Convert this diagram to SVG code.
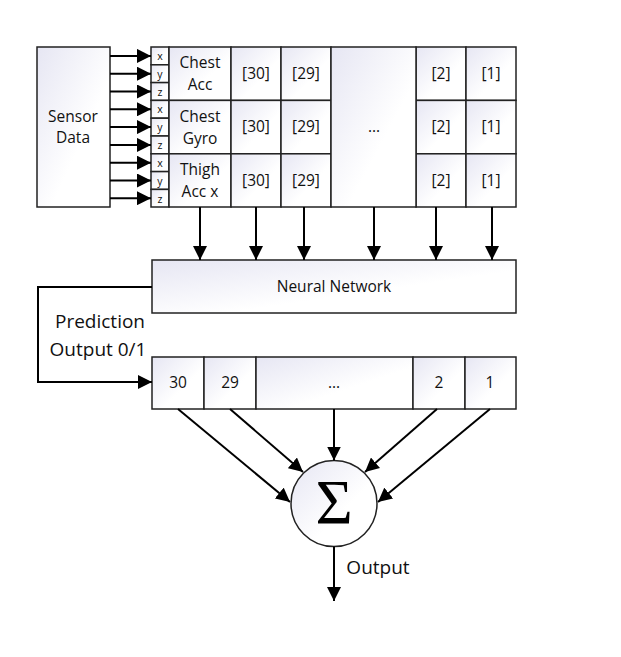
<svg xmlns="http://www.w3.org/2000/svg" width="621" height="657" viewBox="0 0 621 657">
<defs>
<linearGradient id="g" x1="0" y1="0" x2="1" y2="1">
<stop offset="0" stop-color="#e6e6f3"/>
<stop offset="0.6" stop-color="#ffffff"/>
</linearGradient>
<marker id="ah" viewBox="0 0 12 12" refX="12" refY="6" markerWidth="14" markerHeight="14" markerUnits="userSpaceOnUse" orient="auto">
<path d="M0,0 L12,6 L0,12 z" fill="#000"/>
</marker>
<style>
.b{fill:url(#g);stroke:#222;stroke-width:1.5}
.c{stroke:#000;stroke-width:2;fill:none;marker-end:url(#ah)}
.t{font-family:"Open Sans","Noto Sans",sans-serif;font-size:15.5px;fill:#111;text-anchor:middle}
.s{font-family:"Open Sans","Noto Sans",sans-serif;font-size:10.5px;fill:#111;text-anchor:middle}
.l{font-family:"Open Sans","Noto Sans",sans-serif;font-size:19px;fill:#111;text-anchor:middle}
</style>
</defs>
<rect width="621" height="657" fill="#fff"/>
<g id="sensor"><rect class="b" x="37" y="47" width="73" height="160"/><text class="t" x="73" y="122">Sensor</text><text class="t" x="73" y="143">Data</text></g>
<g id="axes">
<rect class="b" x="151" y="47" width="18" height="17.8"/><text class="s" x="160" y="60">x</text>
<rect class="b" x="151" y="64.8" width="18" height="17.8"/><text class="s" x="160" y="78">y</text>
<rect class="b" x="151" y="82.6" width="18" height="17.8"/><text class="s" x="160" y="96">z</text>
<rect class="b" x="151" y="100.4" width="18" height="17.8"/><text class="s" x="160" y="113">x</text>
<rect class="b" x="151" y="118.2" width="18" height="17.8"/><text class="s" x="160" y="131">y</text>
<rect class="b" x="151" y="136" width="18" height="17.8"/><text class="s" x="160" y="149">z</text>
<rect class="b" x="151" y="153.8" width="18" height="17.8"/><text class="s" x="160" y="167">x</text>
<rect class="b" x="151" y="171.6" width="18" height="17.8"/><text class="s" x="160" y="185">y</text>
<rect class="b" x="151" y="189.4" width="18" height="17.6"/><text class="s" x="160" y="203">z</text>
</g>
<g id="chestacc"><rect class="b" x="169" y="47" width="62" height="53.4"/><text class="t" x="200" y="68">Chest</text><text class="t" x="200" y="90">Acc</text></g>
<g id="chestgyro"><rect class="b" x="169" y="100.4" width="62" height="53.4"/><text class="t" x="200" y="122">Chest</text><text class="t" x="200" y="144">Gyro</text></g>
<g id="thighacc"><rect class="b" x="169" y="153.8" width="62" height="53.2"/><text class="t" x="200" y="175">Thigh</text><text class="t" x="200" y="197">Acc x</text></g>
<g id="cells">
<rect class="b" x="231" y="47" width="50" height="53.4"/><text class="t" x="256" y="79">[30]</text>
<rect class="b" x="281" y="47" width="50" height="53.4"/><text class="t" x="306" y="79">[29]</text>
<rect class="b" x="416" y="47" width="50" height="53.4"/><text class="t" x="441" y="79">[2]</text>
<rect class="b" x="466" y="47" width="50" height="53.4"/><text class="t" x="491" y="79">[1]</text>
<rect class="b" x="231" y="100.4" width="50" height="53.4"/><text class="t" x="256" y="132">[30]</text>
<rect class="b" x="281" y="100.4" width="50" height="53.4"/><text class="t" x="306" y="132">[29]</text>
<rect class="b" x="416" y="100.4" width="50" height="53.4"/><text class="t" x="441" y="132">[2]</text>
<rect class="b" x="466" y="100.4" width="50" height="53.4"/><text class="t" x="491" y="132">[1]</text>
<rect class="b" x="231" y="153.8" width="50" height="53.2"/><text class="t" x="256" y="186">[30]</text>
<rect class="b" x="281" y="153.8" width="50" height="53.2"/><text class="t" x="306" y="186">[29]</text>
<rect class="b" x="416" y="153.8" width="50" height="53.2"/><text class="t" x="441" y="186">[2]</text>
<rect class="b" x="466" y="153.8" width="50" height="53.2"/><text class="t" x="491" y="186">[1]</text>
<rect class="b" x="331" y="47" width="85" height="160"/><text class="t" x="374" y="132">...</text>
</g>
<g id="nn"><rect class="b" x="152" y="260" width="364" height="53"/><text class="t" x="334" y="292">Neural Network</text></g>
<g id="outrow">
<rect class="b" x="152" y="357" width="52" height="52"/><text class="t" x="178" y="388">30</text>
<rect class="b" x="204" y="357" width="52" height="52"/><text class="t" x="230" y="388">29</text>
<rect class="b" x="256" y="357" width="157" height="52"/><text class="t" x="334" y="388">...</text>
<rect class="b" x="413" y="357" width="52" height="52"/><text class="t" x="439" y="388">2</text>
<rect class="b" x="465" y="357" width="51" height="52"/><text class="t" x="490" y="388">1</text>
</g>
<g id="sum"><circle class="b" cx="334" cy="503.5" r="43"/><text x="334" y="524" font-family="Liberation Serif,serif" font-size="64" text-anchor="middle" fill="#000">Σ</text></g>
<g id="labels">
<text class="l" x="100" y="328">Prediction</text>
<text class="l" x="98" y="356">Output 0/1</text>
<text class="l" x="378" y="574">Output</text>
</g>
<g id="connectors">
<line class="c" x1="110" y1="55.9" x2="151" y2="55.9"/>
<line class="c" x1="110" y1="73.7" x2="151" y2="73.7"/>
<line class="c" x1="110" y1="91.5" x2="151" y2="91.5"/>
<line class="c" x1="110" y1="109.3" x2="151" y2="109.3"/>
<line class="c" x1="110" y1="127.1" x2="151" y2="127.1"/>
<line class="c" x1="110" y1="144.9" x2="151" y2="144.9"/>
<line class="c" x1="110" y1="162.7" x2="151" y2="162.7"/>
<line class="c" x1="110" y1="180.5" x2="151" y2="180.5"/>
<line class="c" x1="110" y1="198.2" x2="151" y2="198.2"/>
<line class="c" x1="200" y1="207" x2="200" y2="260"/>
<line class="c" x1="256" y1="207" x2="256" y2="260"/>
<line class="c" x1="304" y1="207" x2="304" y2="260"/>
<line class="c" x1="374" y1="207" x2="374" y2="260"/>
<line class="c" x1="436" y1="207" x2="436" y2="260"/>
<line class="c" x1="492" y1="207" x2="492" y2="260"/>
<path class="c" d="M152,287 H38 V382 H152"/>
<line class="c" x1="178" y1="409" x2="290" y2="502"/>
<line class="c" x1="230" y1="409" x2="303" y2="472"/>
<line class="c" x1="334" y1="409" x2="334" y2="460.5"/>
<line class="c" x1="437" y1="409" x2="365" y2="472"/>
<line class="c" x1="490" y1="409" x2="378" y2="502"/>
<line class="c" x1="334" y1="546.5" x2="334" y2="601"/>
</g>
</svg>
